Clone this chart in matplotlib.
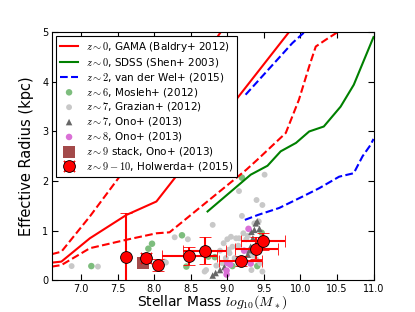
import numpy as np
import matplotlib
matplotlib.use('Agg')
import matplotlib.pyplot as plt

plt.rcParams['mathtext.fontset'] = 'cm'
plt.rcParams['font.family'] = 'DejaVu Sans'

# Lineas de referencia (masa, radio)
gama_m = [6.6, 6.73, 7.12, 7.62, 8.03, 9.87]
gama_r = [0.36, 0.38, 0.85, 1.32, 1.59, 5.05]
gama_hi_m = [6.6, 6.73, 7.12, 7.51, 8.91]
gama_hi_r = [0.53, 0.58, 1.29, 2.06, 5.0]
gama_lo_m = [6.6, 6.73, 7.12, 7.62, 8.03, 8.21, 9.26, 9.41, 9.8, 9.98, 10.12, 10.21, 10.35, 10.53]
gama_lo_r = [0.28, 0.31, 0.65, 0.82, 0.95, 0.97, 2.23, 2.43, 2.97, 3.64, 4.31, 4.71, 4.85, 5.02]

shen_m = [8.73, 9.32, 9.55, 9.73, 9.94, 10.12, 10.32, 10.55, 10.73, 11.0]
shen_r = [1.39, 2.13, 2.31, 2.6, 2.77, 3.0, 3.1, 3.5, 3.94, 4.9]

vdw_late_m = [9.25, 9.89, 10.07]
vdw_late_r = [3.74, 4.78, 5.02]
vdw_early_m = [9.24, 9.42, 9.71, 10.03, 10.26, 10.53, 10.73, 10.85, 10.96, 11.0]
vdw_early_r = [1.22, 1.32, 1.46, 1.69, 1.86, 2.09, 2.16, 2.5, 2.73, 2.85]

# Puntos de alto redshift
mosleh_m = [7.14, 7.92, 7.97, 8.38, 8.44, 8.74, 8.83, 9.07, 9.2, 9.41, 9.47]
mosleh_r = [0.29, 0.64, 0.74, 0.91, 0.28, 0.48, 0.47, 0.29, 2.07, 0.29, 0.96]

grazian_m = [6.87, 7.23, 8.14, 8.16, 8.28, 8.46, 8.69, 8.71, 8.8, 9.51, 9.16, 9.4, 9.48,
             9.2, 9.05, 9.16, 9.37, 9.43, 9.0, 9.12, 9.26, 9.03, 9.07, 8.98, 9.3, 9.33,
             9.48, 9.45, 8.9, 8.95, 9.1, 9.22, 9.35, 8.93, 9.15, 9.28, 9.02, 9.4, 8.85]
grazian_r = [0.29, 0.28, 0.38, 0.36, 0.87, 0.83, 0.18, 0.21, 1.12, 2.13, 1.8, 1.62, 1.52,
             1.3, 0.88, 0.85, 1.15, 1.19, 0.83, 0.85, 0.83, 0.55, 0.68, 0.45, 0.55, 0.21,
             0.18, 0.35, 0.6, 0.75, 0.45, 0.95, 0.5, 0.35, 0.7, 0.9, 0.62, 0.42, 0.3]

ono7_m = [8.8, 8.84, 8.9, 8.96, 9.25, 9.28, 9.3, 9.32, 9.35, 9.37, 9.39, 9.41, 9.44, 9.33]
ono7_r = [0.1, 0.15, 0.21, 0.27, 0.42, 0.52, 0.61, 0.68, 0.85, 1.02, 1.15, 1.19, 1.04, 0.98]

ono8_m = [8.99, 8.99, 9.0, 9.04, 9.23, 9.29, 9.32]
ono8_r = [0.12, 0.2, 0.35, 0.32, 0.6, 1.04, 0.34]

ono_stack_m = [7.84]
ono_stack_r = [0.36]

hol_m = [7.62, 7.89, 8.05, 8.48, 8.69, 9.19, 9.39, 9.49]
hol_r = [0.47, 0.45, 0.31, 0.49, 0.60, 0.39, 0.64, 0.79]
hol_m_lo = [0.0, 0.07, 0.0, 0.38, 0.30, 0.30, 0.29, 0.30]
hol_m_hi = [0.0, 0.07, 0.0, 0.38, 0.29, 0.29, 0.30, 0.30]
hol_r_lo = [0.6, 0.1, 0.12, 0.18, 0.27, 0.1, 0.2, 0.18]
hol_r_hi = [0.88, 0.1, 0.12, 0.19, 0.27, 0.1, 0.23, 0.17]

fig = plt.figure(figsize=(4.15, 3.12), dpi=100)
ax = fig.add_axes([0.125, 0.101, 0.775, 0.796])

ax.plot(gama_m, gama_r, '-', color='r', lw=1.5, label=r'$z\sim0$, GAMA (Baldry+ 2012)')
ax.plot(gama_hi_m, gama_hi_r, '--', color='r', lw=1.5)
ax.plot(gama_lo_m, gama_lo_r, '--', color='r', lw=1.5)
ax.plot(shen_m, shen_r, '-', color='g', lw=1.5, label=r'$z\sim0$, SDSS (Shen+ 2003)')
ax.plot(vdw_late_m, vdw_late_r, '--', color='b', lw=1.5, label=r'$z\sim2$, van der Wel+ (2015)')
ax.plot(vdw_early_m, vdw_early_r, '--', color='b', lw=1.5)

ax.scatter(mosleh_m, mosleh_r, s=22, color='#7dbd7d', edgecolors='none', label=r'$z\sim6$, Mosleh+ (2012)')
ax.scatter(grazian_m, grazian_r, s=18, color='#c8c8c8', edgecolors='none', label=r'$z\sim7$, Grazian+ (2012)')
ax.scatter(ono7_m, ono7_r, s=22, marker='^', color='#666666', edgecolors='none', label=r'$z\sim7$, Ono+ (2013)')
ax.scatter(ono8_m, ono8_r, s=22, color='#da70d6', edgecolors='none', label=r'$z\sim8$, Ono+ (2013)')
ax.scatter(ono_stack_m, ono_stack_r, s=75, marker='s', color='#a34a4a', edgecolors='none',
           label=r'$z\sim9$ stack, Ono+ (2013)')

ax.errorbar(hol_m, hol_r, xerr=[hol_m_lo, hol_m_hi], yerr=[hol_r_lo, hol_r_hi], fmt='o',
            color='r', mec='k', mew=0.6, ms=8.5, ecolor='r', elinewidth=1.5, capsize=4, capthick=1.5,
            label=r'$z\sim9-10$, Holwerda+ (2015)', zorder=5)

ax.set_xlim(6.6, 11.0)
ax.set_ylim(0, 5)
ax.set_xticks(np.arange(7.0, 11.01, 0.5))
ax.set_xticklabels(['%.1f' % v for v in np.arange(7.0, 11.01, 0.5)])
ax.set_yticks([0, 1, 2, 3, 4, 5])
ax.tick_params(direction='in', top=True, right=True, labelsize=7, length=4, pad=2.5)
ax.set_xlabel(r'Stellar Mass $log_{10}(M_*)$', fontsize=10, labelpad=-0.3)
ax.set_ylabel('Effective Radius (kpc)', fontsize=10.5, labelpad=6)

leg = ax.legend(loc='upper left', fontsize=7.5, numpoints=1, scatterpoints=1, fancybox=False,
                framealpha=1, edgecolor='k', borderaxespad=0.4, handlelength=1.8,
                handletextpad=0.7, labelspacing=0.18, borderpad=0.35)
leg.get_frame().set_linewidth(0.8)
leg.set_zorder(10)

fig.savefig('out.png', dpi=100)
